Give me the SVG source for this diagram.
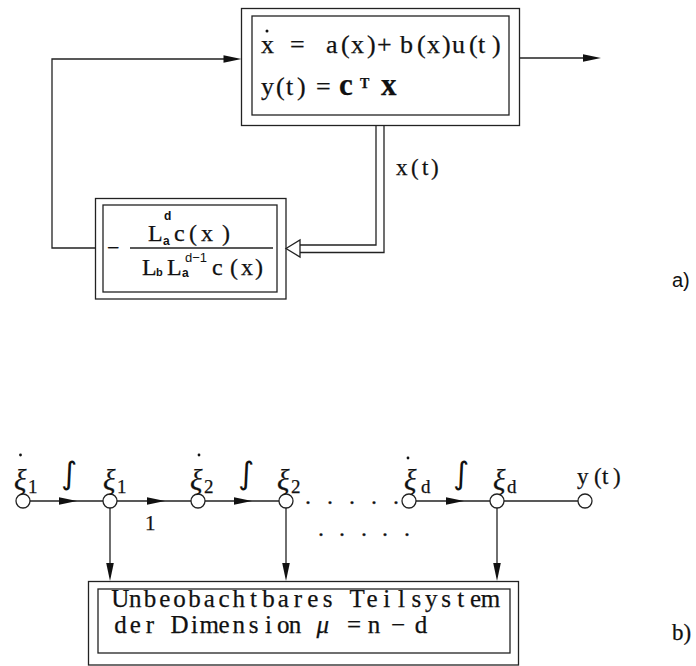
<svg xmlns="http://www.w3.org/2000/svg" xmlns:xlink="http://www.w3.org/1999/xlink" width="696" height="666" viewBox="0 0 696 666">
  <style>
    .ln { stroke: #222; stroke-width: 1.3; fill: none; }
    .box { stroke: #222; stroke-width: 1.3; fill: none; }
    .node { stroke: #222; stroke-width: 1.3; fill: #fff; }
    .ah, .dot { fill: #111; stroke: none; }
    .t { font-family: "Liberation Serif", "DejaVu Serif", serif; fill: #111; stroke: #111; stroke-width: 0.25; }
    .ts { font-family: "Liberation Sans", "DejaVu Sans", sans-serif; fill: #111; }
    .int { font-family: "DejaVu Sans", "Liberation Serif", sans-serif; font-size: 31px; fill: #111; }
    .eq { font-size: 26px; }
    .xi { font-size: 29px; font-style: italic; }
    .sub { font-size: 19px; font-style: normal; }
    .mono { font-size: 25px; text-anchor: middle; }
  </style>
  <defs>
    <path id="ah" class="ah" d="M0,0 L-18,-3.8 L-18,3.8 Z"/>
  </defs>

  <!-- part a: closed loop -->
  <g id="plant">
    <rect class="box" x="241.5" y="8.5" width="278" height="117"/>
    <rect class="box" x="252" y="16" width="257" height="99"/>
    <circle class="dot" cx="267" cy="31" r="1.5"/>
    <text class="t eq" y="53"><tspan x="261">x</tspan> <tspan x="290">=</tspan> <tspan x="326 341 351 367 377 400 417 427 442 452 469 478 492">a(x)+b(x)u(t)</tspan></text>
    <text class="t eq" y="95"><tspan x="261 276 286 297">y(t)</tspan> <tspan x="316">=</tspan> <tspan font-size="31" font-weight="bold" x="339">c</tspan><tspan font-size="14" font-weight="bold" x="360" y="88">T</tspan><tspan font-size="31" font-weight="bold" x="381" y="95">x</tspan></text>
  </g>

  <g id="controller">
    <rect class="box" x="95.5" y="198.5" width="190.5" height="100.5"/>
    <rect class="box" x="103" y="205" width="174" height="87"/>
    <text class="t" font-size="22" x="107" y="255">−</text>
    <line class="ln" x1="130" y1="248" x2="273" y2="248"/>
    <text class="t" font-size="24" y="241"><tspan x="148">L</tspan><tspan class="ts" font-size="12" font-weight="bold" stroke="none" x="163" y="245">a</tspan><tspan class="ts" font-size="12" font-weight="bold" stroke="none" x="164" y="220">d</tspan><tspan x="174 189 201 222" y="241">c(x)</tspan></text>
    <text class="t" font-size="24" y="275"><tspan x="142">L</tspan><tspan class="ts" font-size="11" font-weight="bold" stroke="none" x="156" y="276">b</tspan> <tspan x="167" y="275">L</tspan><tspan class="ts" font-size="12" font-weight="bold" stroke="none" x="182" y="277">a</tspan><tspan class="ts" font-size="13" stroke="none" x="185" y="262">d−1</tspan><tspan x="212 230 241 255" y="275">c(x)</tspan></text>
  </g>

  <g id="labels-a">
    <text class="t" font-size="23" x="396 411 422 431" y="175">x(t)</text>
    <text class="ts" font-size="20" x="672" y="287">a)</text>
  </g>

  <g id="connectors-a">
    <!-- feedback path to plant input -->
    <path class="ln" d="M95.5,248 H52 V59 H226"/>
    <use xlink:href="#ah" transform="translate(241.5,59)"/>
    <!-- plant output -->
    <path class="ln" d="M519.5,58 H584"/>
    <use xlink:href="#ah" transform="translate(601,58)"/>
    <!-- state vector, drawn as a double line -->
    <path class="ln" d="M376,125.5 V245 H300"/>
    <path class="ln" d="M384,125.5 V252.5 H300"/>
    <polygon class="node" points="286,248.5 300,240 300,257"/>
  </g>

  <!-- part b: integrator chain -->
  <g id="connectors-b">
    <line class="ln" x1="30" y1="501" x2="103" y2="501"/>
    <line class="ln" x1="117" y1="501" x2="191" y2="501"/>
    <line class="ln" x1="205" y1="501" x2="279" y2="501"/>
    <line class="ln" x1="416" y1="501" x2="490" y2="501"/>
    <line class="ln" x1="504" y1="501" x2="578" y2="501"/>
    <use xlink:href="#ah" transform="translate(77,501)"/>
    <use xlink:href="#ah" transform="translate(165,501)"/>
    <use xlink:href="#ah" transform="translate(252,501)"/>
    <use xlink:href="#ah" transform="translate(464,501)"/>
    <line class="ln" x1="110" y1="508" x2="110" y2="565"/>
    <line class="ln" x1="286" y1="508" x2="286" y2="565"/>
    <line class="ln" x1="497" y1="508" x2="497" y2="565"/>
    <use xlink:href="#ah" transform="translate(110,581) rotate(90)"/>
    <use xlink:href="#ah" transform="translate(286,581) rotate(90)"/>
    <use xlink:href="#ah" transform="translate(497,581) rotate(90)"/>
  </g>

  <g id="n-xi1dot">
    <circle class="node" cx="23" cy="501" r="7"/>
    <circle class="dot" cx="20.5" cy="455" r="1.4"/>
    <text class="t" y="490"><tspan class="xi" x="14">ξ</tspan><tspan class="sub" x="28" y="493">1</tspan></text>
  </g>
  <g id="n-xi1">
    <circle class="node" cx="110" cy="501" r="7"/>
    <text class="t" y="490"><tspan class="xi" x="103">ξ</tspan><tspan class="sub" x="117" y="493">1</tspan></text>
  </g>
  <g id="n-xi2dot">
    <circle class="node" cx="198" cy="501" r="7"/>
    <circle class="dot" cx="199" cy="455" r="1.4"/>
    <text class="t" y="490"><tspan class="xi" x="190">ξ</tspan><tspan class="sub" x="204" y="493">2</tspan></text>
  </g>
  <g id="n-xi2">
    <circle class="node" cx="286" cy="501" r="7"/>
    <text class="t" y="490"><tspan class="xi" x="277">ξ</tspan><tspan class="sub" x="291" y="493">2</tspan></text>
  </g>
  <g id="n-xiddot">
    <circle class="node" cx="409" cy="501" r="7"/>
    <circle class="dot" cx="408" cy="458" r="1.4"/>
    <text class="t" y="490"><tspan class="xi" x="404">ξ</tspan><tspan class="sub" x="421" y="493">d</tspan></text>
  </g>
  <g id="n-xid">
    <circle class="node" cx="497" cy="501" r="7"/>
    <text class="t" y="490"><tspan class="xi" x="493">ξ</tspan><tspan class="sub" x="507" y="493">d</tspan></text>
  </g>
  <g id="n-y">
    <circle class="node" cx="585" cy="501" r="7"/>
    <text class="t" font-size="23" x="577 594 602 613" y="484">y(t)</text>
  </g>

  <g id="labels-b">
    <text class="int" x="61" y="484">∫</text>
    <text class="int" x="238" y="484">∫</text>
    <text class="int" x="453" y="484">∫</text>
    <text class="t" font-size="21" x="145" y="530">1</text>
    <text class="t" font-size="24" x="305 327 349 371 393" y="504">.....</text>
    <text class="t" font-size="24" x="318 339 361 382 404" y="536">.....</text>
    <text class="t" font-size="23" x="672" y="640">b)</text>
  </g>

  <g id="subsystem">
    <rect class="box" x="88.5" y="581.5" width="430" height="83.5"/>
    <rect class="box" x="98" y="589" width="412" height="64"/>
    <text class="t mono" x="120.4 135.2 150 164.8 179.6 194.4 209.2 224 238.8 253.6 268.4 283.2 298 312.8 327.6 342.4 357.2 372 386.8 401.6 416.4 431.2 446 460.8 475.6 490.4" y="607">Unbeobachtbares Teilsystem</text>
    <text class="t mono" y="633"><tspan x="120.4 135.2 150 164.8 179.6 194.4 209.2 224 238.8 253.6 268.4 283.2 298">der Dimension</tspan> <tspan font-style="italic" x="326">μ</tspan> <tspan x="354 374 398 421">=n−d</tspan></text>
  </g>
</svg>
